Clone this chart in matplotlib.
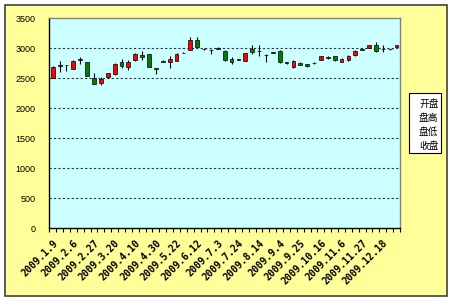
import matplotlib.pyplot as plt
import matplotlib.patches as mpatches
import numpy as np

plt.rcParams['font.family'] = ['Liberation Sans', 'DejaVu Sans']

# weekly dates (2009)
dates = ['1.9', '1.16', '1.23', '2.6', '2.13', '2.20', '2.27', '3.6', '3.13', '3.20',
         '3.27', '4.3', '4.10', '4.17', '4.24', '4.30', '5.8', '5.15', '5.22', '5.27',
         '6.5', '6.12', '6.19', '6.26', '7.3', '7.10', '7.17', '7.24', '7.31', '8.7',
         '8.14', '8.21', '8.28', '9.4', '9.11', '9.18', '9.25', '9.30', '10.9', '10.16',
         '10.23', '10.30', '11.6', '11.13', '11.20', '11.27', '12.4', '12.11', '12.18', '12.25',
         '12.31']

opens = [2500, 2730, 2725, 2660, 2800, 2770, 2505, 2420, 2520, 2565,
         2770, 2690, 2800, 2890, 2900, 2670, 2790, 2770, 2790, 2920,
         2980, 3145, 2995, 2975, 3005, 2955, 2830, 2815, 2790, 2995,
         2960, 2895, 2935, 2955, 2770, 2690, 2760, 2740, 2760, 2810,
         2860, 2865, 2770, 2800, 2885, 2985, 3010, 3050, 2995, 2990,
         3020]
highs = [2700, 2790, 2730, 2800, 2855, 2780, 2590, 2520, 2590, 2750,
         2830, 2810, 2920, 2955, 2905, 2680, 2800, 2880, 2920, 2935,
         3190, 3190, 3010, 2995, 3025, 2965, 2860, 2820, 2925, 3050,
         3050, 2900, 2945, 2965, 2780, 2800, 2775, 2745, 2765, 2880,
         2880, 2870, 2840, 2890, 2965, 3010, 3060, 3100, 3050, 2995,
         3060]
lows = [2500, 2605, 2620, 2650, 2745, 2530, 2400, 2395, 2510, 2560,
        2680, 2640, 2790, 2810, 2685, 2565, 2770, 2680, 2785, 2915,
        2975, 3015, 2980, 2900, 2990, 2790, 2740, 2800, 2785, 2900,
        2870, 2770, 2915, 2755, 2740, 2670, 2720, 2695, 2745, 2805,
        2830, 2795, 2765, 2795, 2880, 2970, 3005, 2940, 2940, 2980,
        3015]
closes = [2690, 2710, 2715, 2790, 2815, 2540, 2410, 2495, 2580, 2745,
          2700, 2770, 2910, 2860, 2690, 2660, 2780, 2830, 2910, 2930,
          3135, 3020, 2985, 2965, 2995, 2800, 2770, 2805, 2920, 2940,
          2950, 2885, 2925, 2770, 2760, 2790, 2730, 2705, 2750, 2865,
          2840, 2800, 2830, 2880, 2955, 2975, 3050, 2955, 2985, 2985,
          3050]

legend_labels = ['开盘', '盘高', '盘低', '收盘']

fig = plt.figure(figsize=(4.5, 3.0), dpi=100, facecolor='white')
# chart area background with border
fig.patches.append(mpatches.Rectangle((5 / 450, 4 / 300), 442 / 450, 291 / 300,
                                      transform=fig.transFigure, facecolor='#FFFF99',
                                      edgecolor='#404040', linewidth=1.2, zorder=-1))

ax = fig.add_axes([49.3 / 450, 72 / 300, 350.7 / 450, 209.6 / 300])
ax.set_zorder(5)
ax.set_facecolor('#CCFFFF')

x = np.arange(len(dates))
o = np.array(opens)
c = np.array(closes)
bottoms = np.minimum(o, c)
heights = np.abs(c - o)
colors = ['#FF0000' if cc > oo else '#008000' for oo, cc in zip(o, c)]

ax.vlines(x, lows, highs, color='black', linewidth=0.8, zorder=3)
ax.bar(x, heights, bottom=bottoms, width=0.55, color=colors,
       edgecolor='black', linewidth=0.5, zorder=4)

ax.set_xlim(-0.5, len(dates) - 0.5)
ax.set_ylim(0, 3500)
ax.set_yticks(range(0, 3501, 500))
for v in range(500, 3500, 500):
    ax.axhline(v, color='#333333', linestyle=(0, (2, 2)), linewidth=0.8, zorder=1)

ax.tick_params(axis='y', length=0, pad=10, labelsize=6.5)

lab_idx = x[::3]
ax.set_xticks(lab_idx)
ax.set_xticklabels(['2009.' + dates[i] for i in lab_idx], rotation=45,
                   ha='right', va='top', rotation_mode='anchor',
                   fontsize=7, fontweight='bold', family='DejaVu Sans Mono')
ax.tick_params(axis='x', which='major', length=0, pad=7)
ax.set_xticks(np.arange(-0.5, len(dates)), minor=True)
ax.tick_params(axis='x', which='minor', length=3, width=0.8, direction='out')

for s in ['left', 'bottom']:
    ax.spines[s].set_color('black')
    ax.spines[s].set_linewidth(1)
for s in ['top', 'right']:
    ax.spines[s].set_color('#808080')
    ax.spines[s].set_linewidth(1)

# legend box
fig.patches.append(mpatches.Rectangle((409 / 450, (300 - 153) / 300), 31.5 / 450, 60 / 300,
                                      transform=fig.transFigure, facecolor='white',
                                      edgecolor='black', linewidth=0.8, zorder=2))
for i, lab in enumerate(legend_labels):
    fig.text(438.5 / 450, (300 - 103.5 - i * 14) / 300, lab, ha='right', va='center',
             fontsize=7, family=['Noto Sans CJK SC', 'DejaVu Sans'], zorder=3)

fig.savefig('out.png', dpi=100, facecolor='white')
